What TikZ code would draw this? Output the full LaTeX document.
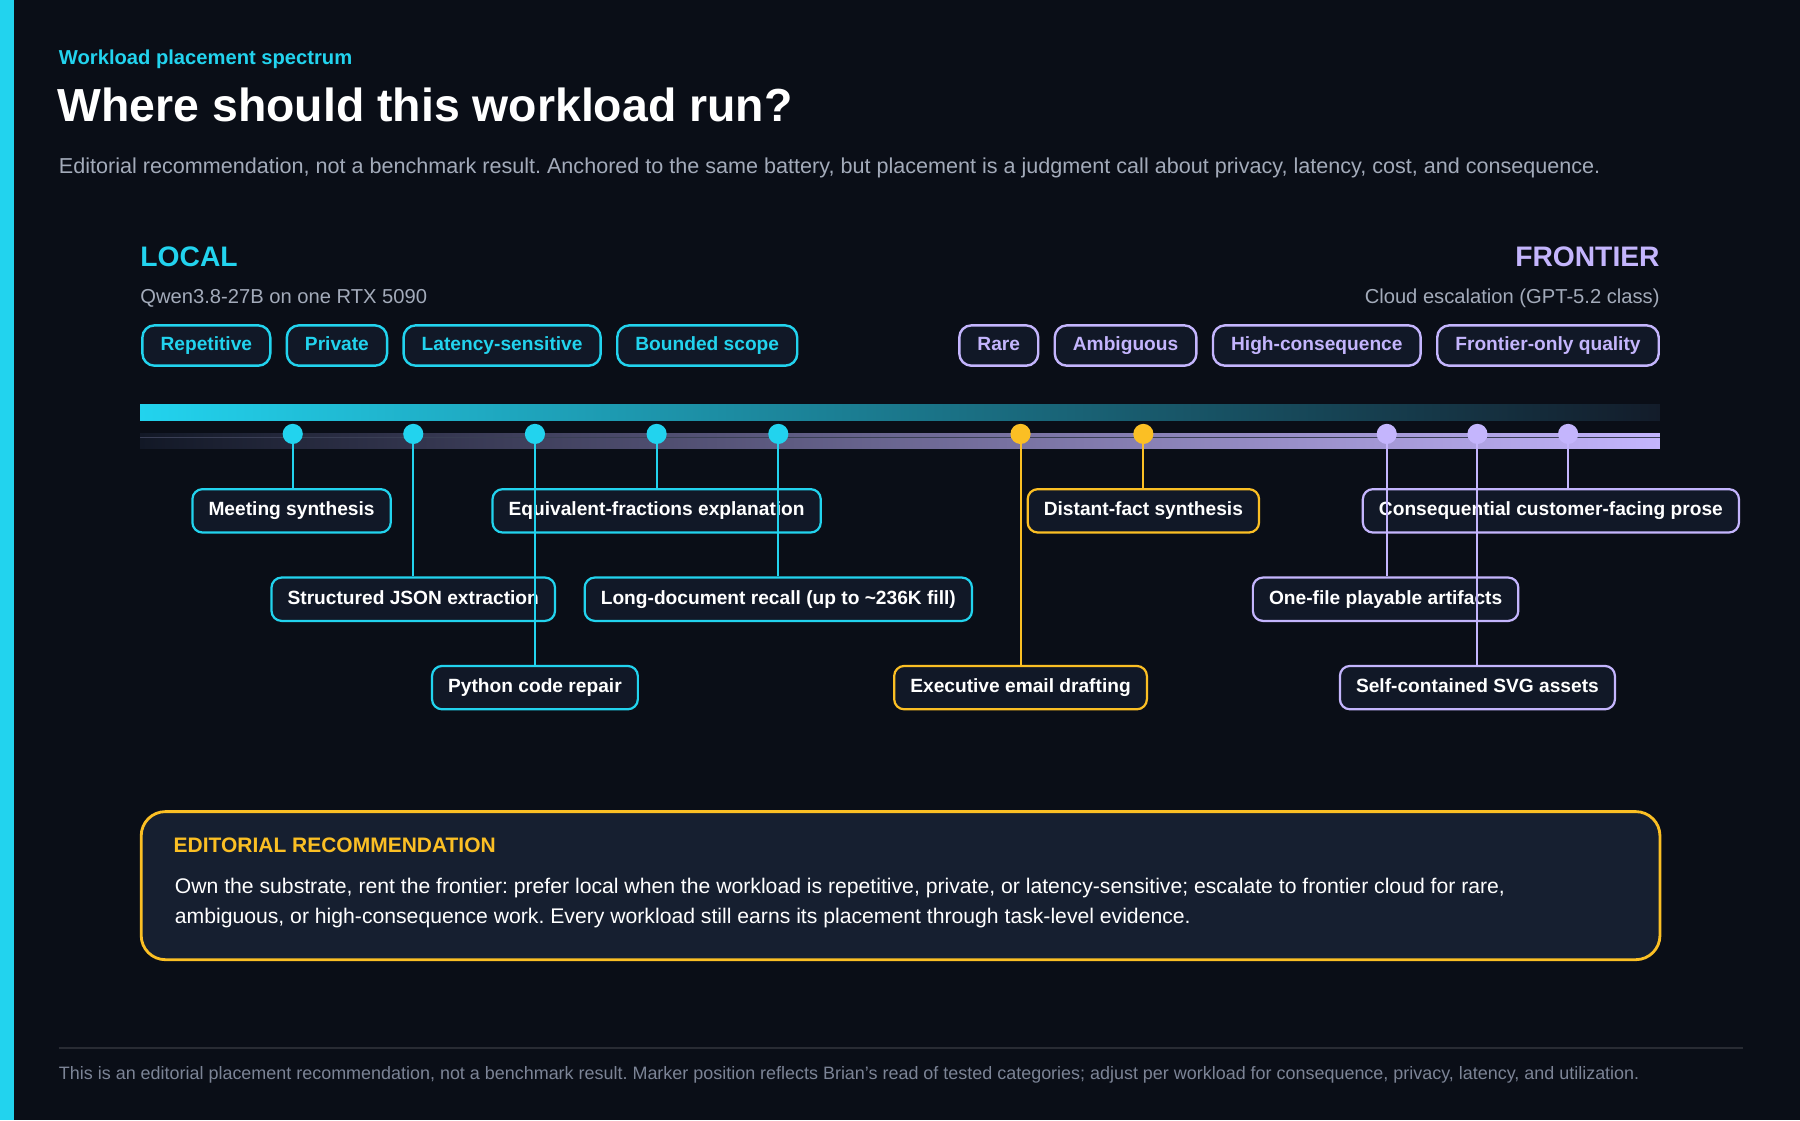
\documentclass[tikz,border=0pt]{standalone}
\usepackage{fontspec}
\setmainfont{Liberation Sans}
\usetikzlibrary{positioning}

\definecolor{bgdark}{HTML}{0A0E17}
\definecolor{cyanacc}{HTML}{22D3EE}
\definecolor{lavacc}{HTML}{C4B5FD}
\definecolor{amberacc}{HTML}{FBBF24}
\definecolor{boxfill}{HTML}{111827}
\definecolor{recfill}{HTML}{161F30}
\definecolor{greytext}{HTML}{A3ABBA}
\definecolor{dimtext}{HTML}{7C8496}
\definecolor{barend}{HTML}{131C2A}
\definecolor{barstart}{HTML}{121826}
\definecolor{thinline}{HTML}{3A3F55}

\tikzset{
  every node/.append style={inner sep=0pt},
  chip/.style={draw=#1, text=#1, fill=boxfill, line width=1.2pt, rounded corners=6pt,
    font=\bfseries\fontsize{9.5}{11}\selectfont, minimum height=20pt, inner xsep=9pt,
    text height=7pt, text depth=2pt},
  wl/.style={draw=#1, text=white, fill=boxfill, line width=1.1pt, rounded corners=5pt,
    font=\bfseries\fontsize{9.5}{11}\selectfont, minimum height=21.5pt, inner xsep=8pt,
    text height=7pt, text depth=2pt},
  dot/.style={circle, fill=#1, minimum size=10pt},
  stem/.style={draw=#1, line width=1pt},
}

\begin{document}
\frenchspacing
\begin{tikzpicture}[x=0.02cm, y=-0.02cm]
    % Background and side strip
    \fill[bgdark] (0,0) rectangle (1568,976);
    \useasboundingbox (0,0) rectangle (1568,976);
    \fill[cyanacc] (0,0) rectangle (12,976);

    % Header
    \node[anchor=base west, text=cyanacc, font=\bfseries\fontsize{10}{12}\selectfont] (kicker) at (51,56) {Workload placement spectrum};
    \node[anchor=base west, text=white, font=\bfseries\fontsize{23}{27}\selectfont] (title) at (50,106) {Where should this workload run?};
    \node[anchor=base west, text=greytext, font=\fontsize{10.7}{12}\selectfont] (intro) at (51,151) {Editorial recommendation, not a benchmark result. Anchored to the same battery, but placement is a judgment call about privacy, latency, cost, and consequence.};

    % Ends of the spectrum
    \node[anchor=base west, text=cyanacc, font=\bfseries\fontsize{14}{16}\selectfont] (local) at (122,232) {LOCAL};
    \node[anchor=base west, text=greytext, font=\fontsize{10}{12}\selectfont] (localsub) at (122,264) {Qwen3.8-27B on one RTX 5090};
    \node[anchor=base east, text=lavacc, font=\bfseries\fontsize{14}{16}\selectfont] (frontier) at (1446,232) {FRONTIER};
    \node[anchor=base east, text=greytext, font=\fontsize{10}{12}\selectfont] (frontiersub) at (1446,264) {Cloud escalation (GPT-5.2 class)};

    % Trait chips
    \node[chip=cyanacc, anchor=west] (repetitive) at (123,301) {Repetitive};
    \node[chip=cyanacc, right=7pt of repetitive] (private) {Private};
    \node[chip=cyanacc, right=7pt of private] (latency) {Latency-sensitive};
    \node[chip=cyanacc, right=7pt of latency] (bounded) {Bounded scope};
    \node[chip=lavacc, anchor=east] (fronly) at (1446,301) {Frontier-only quality};
    \node[chip=lavacc, left=7pt of fronly] (highcon) {High-consequence};
    \node[chip=lavacc, left=7pt of highcon] (ambig) {Ambiguous};
    \node[chip=lavacc, left=7pt of ambig] (rare) {Rare};

    % Spectrum bars
    \shade[left color=cyanacc, right color=barend] (122,352) rectangle (1446,366);
    \shade[left color=barstart, right color=lavacc] (122,378) rectangle (1446,391);
    \draw[thinline, line width=0.8pt] (122,381) -- (1446,381);

    % Markers
    \foreach \x/\n in {255/m1, 360/m2, 466/m3, 572/m4, 678/m5}
        \node[dot=cyanacc] (\n) at (\x,378) {};
    \foreach \x/\n in {889/m6, 996/m7}
        \node[dot=amberacc] (\n) at (\x,378) {};
    \foreach \x/\n in {1208/m8, 1287/m9, 1366/m10}
        \node[dot=lavacc] (\n) at (\x,378) {};

    % Workload labels
    \node[wl=cyanacc] (meeting) at (254,445) {Meeting synthesis};
    \node[wl=cyanacc] (json) at (360,522) {Structured JSON extraction};
    \node[wl=cyanacc] (python) at (466,599) {Python code repair};
    \node[wl=cyanacc] (fractions) at (572,445) {Equivalent-fractions explanation};
    \node[wl=cyanacc] (recall) at (678,522) {Long-document recall (up to \textasciitilde236K fill)};
    \node[wl=amberacc] (email) at (889,599) {Executive email drafting};
    \node[wl=amberacc] (distant) at (996,445) {Distant-fact synthesis};
    \node[wl=lavacc] (prose) at (1351,445) {Consequential customer-facing prose};
    \node[wl=lavacc] (playable) at (1207,522) {One-file playable artifacts};
    \node[wl=lavacc] (svg) at (1287,599) {Self-contained SVG assets};

    % Stems
    \draw[stem=cyanacc] (m1) -- (m1 |- meeting.north);
    \draw[stem=cyanacc] (m2) -- (m2 |- json.north);
    \draw[stem=cyanacc] (m3) -- (m3 |- python.north);
    \draw[stem=cyanacc] (m4) -- (m4 |- fractions.north);
    \draw[stem=cyanacc] (m5) -- (m5 |- recall.north);
    \draw[stem=amberacc] (m6) -- (m6 |- email.north);
    \draw[stem=amberacc] (m7) -- (m7 |- distant.north);
    \draw[stem=lavacc] (m8) -- (m8 |- playable.north);
    \draw[stem=lavacc] (m9) -- (m9 |- svg.north);
    \draw[stem=lavacc] (m10) -- (m10 |- prose.north);

    % Recommendation
    \draw[amberacc, fill=recfill, line width=1.4pt, rounded corners=12pt] (123,707) rectangle (1446,836);
    \node[anchor=base west, text=amberacc, font=\bfseries\fontsize{10.4}{12}\selectfont] (rechead) at (151,743) {EDITORIAL RECOMMENDATION};
    \node[anchor=north west, text=white, align=left, font=\fontsize{10.5}{14.6}\selectfont] (rectext) at (152,765)
        {Own the substrate, rent the frontier: prefer local when the workload is repetitive, private, or latency-sensitive; escalate to frontier cloud for rare,\\
         ambiguous, or high-consequence work. Every workload still earns its placement through task-level evidence.};

    % Footer
    \draw[white!12!bgdark, line width=0.6pt] (51,913) -- (1518,913);
    \node[anchor=base west, text=dimtext, font=\fontsize{8.9}{10}\selectfont] (footer) at (51,940) {This is an editorial placement recommendation, not a benchmark result. Marker position reflects Brian's read of tested categories; adjust per workload for consequence, privacy, latency, and utilization.};
\end{tikzpicture}
\end{document}
